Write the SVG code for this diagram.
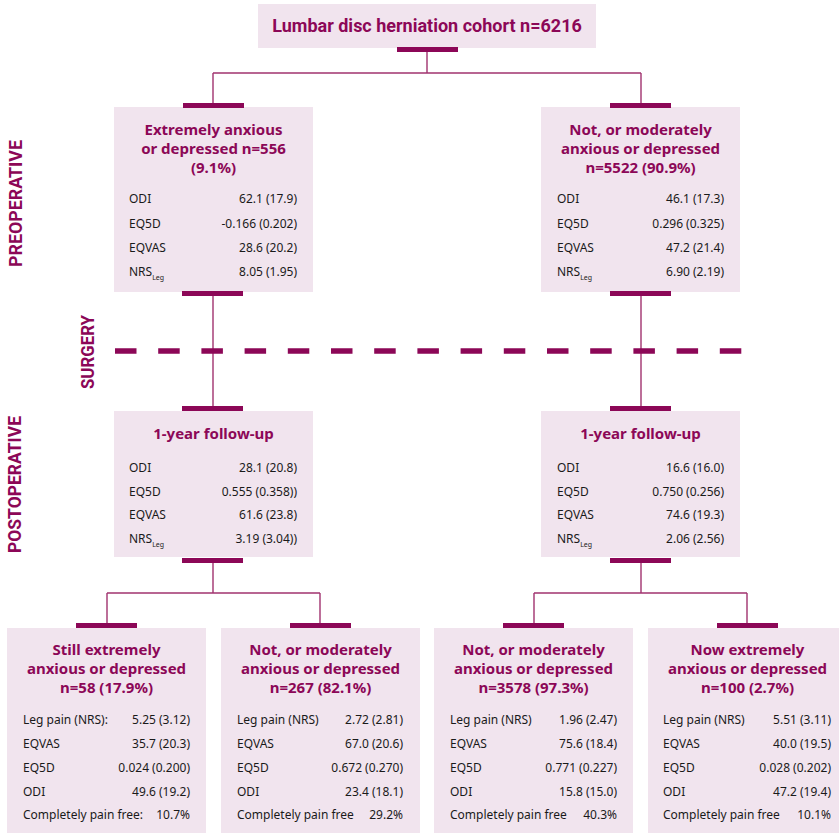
<svg xmlns="http://www.w3.org/2000/svg" width="839" height="833" viewBox="0 0 839 833">
<style>
.box{fill:#f1e4ee}
.bar{fill:#8c0757}
.con{fill:none;stroke:#a1336f;stroke-width:1.4}
.ttl{font-family:"Noto Sans","Liberation Sans",sans-serif;font-weight:700;font-size:15px;fill:#8c0757;text-anchor:middle}
.big{font-family:Roboto,"Liberation Sans",sans-serif;font-size:18px}
.side{font-family:Roboto,"Liberation Sans",sans-serif;font-weight:700;font-size:18px;fill:#8c0757;text-anchor:middle}
.lab{font-family:"Noto Sans","Liberation Sans",sans-serif;font-size:12px;fill:#1a1a1a}
.val{font-family:"Noto Sans","Liberation Sans",sans-serif;font-size:12px;fill:#1a1a1a;text-anchor:end}
.sub{font-size:7px}
</style>
<rect width="839" height="833" fill="#ffffff"/>

<g id="connectors">
<path class="con" d="M427,52V73M213,73H641M213,73V103M641,73V103"/>
<path class="con" d="M213,296V406M641,296V406"/>
<path class="con" d="M213,563V593M107,593H320M107,593V623M320,593V623"/>
<path class="con" d="M641,563V593M534,593H747M534,593V623M747,593V623"/>
<line x1="115" y1="351" x2="742" y2="351" stroke="#8c0757" stroke-width="5.5" stroke-dasharray="21.5 21.7"/>
</g>

<g id="labels">
<text class="side" transform="translate(22,203.5) rotate(-90)" textLength="127" lengthAdjust="spacingAndGlyphs">PREOPERATIVE</text>
<text class="side" transform="translate(94,352) rotate(-90)" textLength="74" lengthAdjust="spacingAndGlyphs">SURGERY</text>
<text class="side" transform="translate(21,484.5) rotate(-90)" textLength="137" lengthAdjust="spacingAndGlyphs">POSTOPERATIVE</text>
</g>

<g id="cohort">
<rect class="box" x="258" y="4" width="338" height="44"/>
<text class="ttl big" x="427" y="32">Lumbar disc herniation cohort n=6216</text>
<rect class="bar" x="397" y="47" width="61" height="5"/>
</g>

<g id="pre-extreme">
<rect class="box" x="114" y="107" width="199" height="185"/>
<rect class="bar" x="183" y="103" width="61" height="5"/>
<rect class="bar" x="182" y="291" width="61" height="5"/>
<text class="ttl" x="213.5" y="135">Extremely anxious</text>
<text class="ttl" x="213.5" y="154">or depressed n=556</text>
<text class="ttl" x="213.5" y="173">(9.1%)</text>
<text class="lab" x="129" y="203">ODI</text><text class="val" x="297" y="203">62.1 (17.9)</text>
<text class="lab" x="129" y="228">EQ5D</text><text class="val" x="297" y="228">-0.166 (0.202)</text>
<text class="lab" x="129" y="252">EQVAS</text><text class="val" x="297" y="252">28.6 (20.2)</text>
<text class="lab" x="129" y="276">NRS<tspan class="sub" dy="4">Leg</tspan></text><text class="val" x="297" y="276">8.05 (1.95)</text>
</g>

<g id="pre-moderate">
<rect class="box" x="541" y="107" width="199" height="185"/>
<rect class="bar" x="610" y="103" width="61" height="5"/>
<rect class="bar" x="610" y="291" width="61" height="5"/>
<text class="ttl" x="640.5" y="135">Not, or moderately</text>
<text class="ttl" x="640.5" y="154">anxious or depressed</text>
<text class="ttl" x="640.5" y="173">n=5522 (90.9%)</text>
<text class="lab" x="557" y="203">ODI</text><text class="val" x="724" y="203">46.1 (17.3)</text>
<text class="lab" x="557" y="228">EQ5D</text><text class="val" x="724" y="228">0.296 (0.325)</text>
<text class="lab" x="557" y="252">EQVAS</text><text class="val" x="724" y="252">47.2 (21.4)</text>
<text class="lab" x="557" y="276">NRS<tspan class="sub" dy="4">Leg</tspan></text><text class="val" x="724" y="276">6.90 (2.19)</text>
</g>

<g id="fu-extreme">
<rect class="box" x="114" y="411" width="199" height="146"/>
<rect class="bar" x="182" y="406" width="61" height="5"/>
<rect class="bar" x="182" y="558" width="61" height="5"/>
<text class="ttl" x="213.5" y="439">1-year follow-up</text>
<text class="lab" x="129" y="472">ODI</text><text class="val" x="297" y="472">28.1 (20.8)</text>
<text class="lab" x="129" y="495.5">EQ5D</text><text class="val" x="297" y="495.5">0.555 (0.358))</text>
<text class="lab" x="129" y="519">EQVAS</text><text class="val" x="297" y="519">61.6 (23.8)</text>
<text class="lab" x="129" y="543">NRS<tspan class="sub" dy="4">Leg</tspan></text><text class="val" x="297" y="543">3.19 (3.04))</text>
</g>

<g id="fu-moderate">
<rect class="box" x="541" y="411" width="199" height="146"/>
<rect class="bar" x="610" y="406" width="61" height="5"/>
<rect class="bar" x="610" y="558" width="61" height="5"/>
<text class="ttl" x="640.5" y="439">1-year follow-up</text>
<text class="lab" x="557" y="472">ODI</text><text class="val" x="724" y="472">16.6 (16.0)</text>
<text class="lab" x="557" y="495.5">EQ5D</text><text class="val" x="724" y="495.5">0.750 (0.256)</text>
<text class="lab" x="557" y="519">EQVAS</text><text class="val" x="724" y="519">74.6 (19.3)</text>
<text class="lab" x="557" y="543">NRS<tspan class="sub" dy="4">Leg</tspan></text><text class="val" x="724" y="543">2.06 (2.56)</text>
</g>

<g id="still-extreme">
<rect class="box" x="7" y="628" width="199" height="205"/>
<rect class="bar" x="76" y="623" width="61" height="5"/>
<text class="ttl" x="106.5" y="655">Still extremely</text>
<text class="ttl" x="106.5" y="674">anxious or depressed</text>
<text class="ttl" x="106.5" y="693">n=58 (17.9%)</text>
<text class="lab" x="23" y="724">Leg pain (NRS):</text><text class="val" x="190" y="724">5.25 (3.12)</text>
<text class="lab" x="23" y="748">EQVAS</text><text class="val" x="190" y="748">35.7 (20.3)</text>
<text class="lab" x="23" y="772">EQ5D</text><text class="val" x="190" y="772">0.024 (0.200)</text>
<text class="lab" x="23" y="796">ODI</text><text class="val" x="190" y="796">49.6 (19.2)</text>
<text class="lab" x="23" y="819">Completely pain free:</text><text class="val" x="190" y="819">10.7%</text>
</g>

<g id="now-moderate-a">
<rect class="box" x="221" y="628" width="199" height="205"/>
<rect class="bar" x="290" y="623" width="61" height="5"/>
<text class="ttl" x="320.5" y="655">Not, or moderately</text>
<text class="ttl" x="320.5" y="674">anxious or depressed</text>
<text class="ttl" x="320.5" y="693">n=267 (82.1%)</text>
<text class="lab" x="237" y="724">Leg pain (NRS)</text><text class="val" x="403" y="724">2.72 (2.81)</text>
<text class="lab" x="237" y="748">EQVAS</text><text class="val" x="403" y="748">67.0 (20.6)</text>
<text class="lab" x="237" y="772">EQ5D</text><text class="val" x="403" y="772">0.672 (0.270)</text>
<text class="lab" x="237" y="796">ODI</text><text class="val" x="403" y="796">23.4 (18.1)</text>
<text class="lab" x="237" y="819">Completely pain free</text><text class="val" x="403" y="819">29.2%</text>
</g>

<g id="now-moderate-b">
<rect class="box" x="434" y="628" width="199" height="205"/>
<rect class="bar" x="503" y="623" width="61" height="5"/>
<text class="ttl" x="533.5" y="655">Not, or moderately</text>
<text class="ttl" x="533.5" y="674">anxious or depressed</text>
<text class="ttl" x="533.5" y="693">n=3578 (97.3%)</text>
<text class="lab" x="450" y="724">Leg pain (NRS)</text><text class="val" x="617" y="724">1.96 (2.47)</text>
<text class="lab" x="450" y="748">EQVAS</text><text class="val" x="617" y="748">75.6 (18.4)</text>
<text class="lab" x="450" y="772">EQ5D</text><text class="val" x="617" y="772">0.771 (0.227)</text>
<text class="lab" x="450" y="796">ODI</text><text class="val" x="617" y="796">15.8 (15.0)</text>
<text class="lab" x="450" y="819">Completely pain free</text><text class="val" x="617" y="819">40.3%</text>
</g>

<g id="now-extreme">
<rect class="box" x="648" y="628" width="199" height="205"/>
<rect class="bar" x="717" y="623" width="61" height="5"/>
<text class="ttl" x="747.5" y="655">Now extremely</text>
<text class="ttl" x="747.5" y="674">anxious or depressed</text>
<text class="ttl" x="747.5" y="693">n=100 (2.7%)</text>
<text class="lab" x="663" y="724">Leg pain (NRS)</text><text class="val" x="831" y="724">5.51 (3.11)</text>
<text class="lab" x="663" y="748">EQVAS</text><text class="val" x="831" y="748">40.0 (19.5)</text>
<text class="lab" x="663" y="772">EQ5D</text><text class="val" x="831" y="772">0.028 (0.202)</text>
<text class="lab" x="663" y="796">ODI</text><text class="val" x="831" y="796">47.2 (19.4)</text>
<text class="lab" x="663" y="819">Completely pain free</text><text class="val" x="831" y="819">10.1%</text>
</g>
</svg>
